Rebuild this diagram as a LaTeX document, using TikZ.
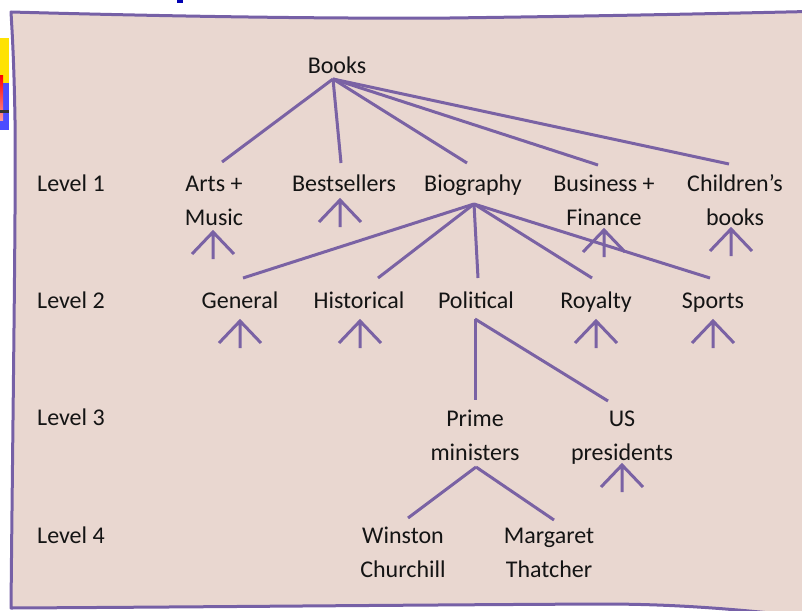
\documentclass[tikz,border=0pt]{standalone}
\usepackage{fontspec}
\setmainfont{Carlito}
\definecolor{paper}{RGB}{233,215,208}
\definecolor{frame}{RGB}{118,96,166}
\definecolor{linec}{RGB}{122,98,164}
\definecolor{ink}{RGB}{20,20,20}
\newcommand{\twolines}[2]{\begin{tabular}[t]{@{}c@{}}#1\\#2\end{tabular}}
\tikzset{
  label/.style={inner sep=0pt, anchor=base, text=ink, font=\fontsize{24}{34}\selectfont},
  levellabel/.style={label, anchor=base west},
  link/.style={draw=linec, line width=3pt},
  uparrow/.pic={\draw[link] (0,0) -- (0,27) (-21,22) -- (0,0) -- (21,22);}
}
\begin{document}
\begin{tikzpicture}[x=1pt,y=-1pt]
\useasboundingbox (0,0) rectangle (802,610);
% sheet with a hand-drawn frame
\begin{scope}
\clip (0,0) rectangle (802,610);
\filldraw[fill=paper, draw=frame, line width=3pt, line join=round]
  (11,12) .. controls (120,15) and (300,19) .. (450,18)
  .. controls (600,16) and (700,14) .. (830,11) -- (840,625) -- (770,613)
  .. controls (700,606) and (650,604) .. (600,604)
  .. controls (400,605) and (200,607) .. (11,608)
  .. controls (13,400) and (16,200) .. (15,120)
  .. controls (14,60) and (12,30) .. cycle;
\end{scope}
% side tabs
\fill[yellow!85!orange] (0,38) rectangle (9,83);
\fill[blue!70!white] (0,83) rectangle (9,130);
\shade[top color=red, bottom color=red!40!white] (0,75) rectangle (3,120);
\fill[black!80] (0,110) rectangle (9,113);
\fill[blue!70!black] (177,0) rectangle (183,3);

% level captions
\node[levellabel] (lv1) at (37,191) {Level 1};
\node[levellabel] (lv2) at (37,308) {Level 2};
\node[levellabel] (lv3) at (37,425) {Level 3};
\node[levellabel] (lv4) at (37,543) {Level 4};

% nodes
\node[label] (books) at (337,73) {Books};
\node[label] (arts) at (214,191) {\twolines{Arts +}{Music}};
\node[label] (best) at (344,191) {Bestsellers};
\node[label] (bio) at (473,191) {Biography};
\node[label] (bus) at (604,191) {\twolines{Business +}{Finance}};
\node[label] (child) at (735,191) {\twolines{Children’s}{books}};
\node[label] (gen) at (240,308) {General};
\node[label] (hist) at (359,308) {Historical};
\node[label] (pol) at (476,308) {Political};
\node[label] (roy) at (596,308) {Royalty};
\node[label] (sport) at (713,308) {Sports};
\node[label] (pm) at (475,426) {\twolines{Prime}{ministers}};
\node[label] (us) at (622,426) {\twolines{US}{presidents}};
\node[label] (wc) at (403,543) {\twolines{Winston}{Churchill}};
\node[label] (mt) at (549,543) {\twolines{Margaret}{Thatcher}};

% connector ends
\coordinate (booksFoot) at (333,79);
\coordinate (artsTop) at (222,162);
\coordinate (bestTop) at (341,163);
\coordinate (bioTop) at (467,163);
\coordinate (busTop) at (598,165);
\coordinate (childTop) at (729,164);
\coordinate (bioFoot) at (474,204);
\coordinate (genTop) at (243,278);
\coordinate (histTop) at (378,278);
\coordinate (polTop) at (478,278);
\coordinate (royTop) at (592,278);
\coordinate (sportTop) at (710,278);
\coordinate (polFoot) at (475,319);
\coordinate (pmTop) at (475,400);
\coordinate (usTop) at (608,401);
\coordinate (pmFoot) at (476,467);
\coordinate (wcTop) at (408,518);
\coordinate (mtTop) at (554,520);

% connectors
\foreach \t in {artsTop,bestTop,bioTop,busTop,childTop}
  \draw[link] (booksFoot) -- (\t);
\foreach \t in {genTop,histTop,polTop,royTop,sportTop}
  \draw[link] (bioFoot) -- (\t);
\foreach \t in {pmTop,usTop}
  \draw[link] (polFoot) -- (\t);
\foreach \t in {wcTop,mtTop}
  \draw[link] (pmFoot) -- (\t);

% unexpanded subtrees
\pic at (213,232) {uparrow};
\pic at (340,200) {uparrow};
\pic at (604,230) {uparrow};
\pic at (731,229) {uparrow};
\pic at (240,321) {uparrow};
\pic at (360,321) {uparrow};
\pic at (596,321) {uparrow};
\pic at (713,321) {uparrow};
\pic at (622,465) {uparrow};
\end{tikzpicture}
\end{document}
